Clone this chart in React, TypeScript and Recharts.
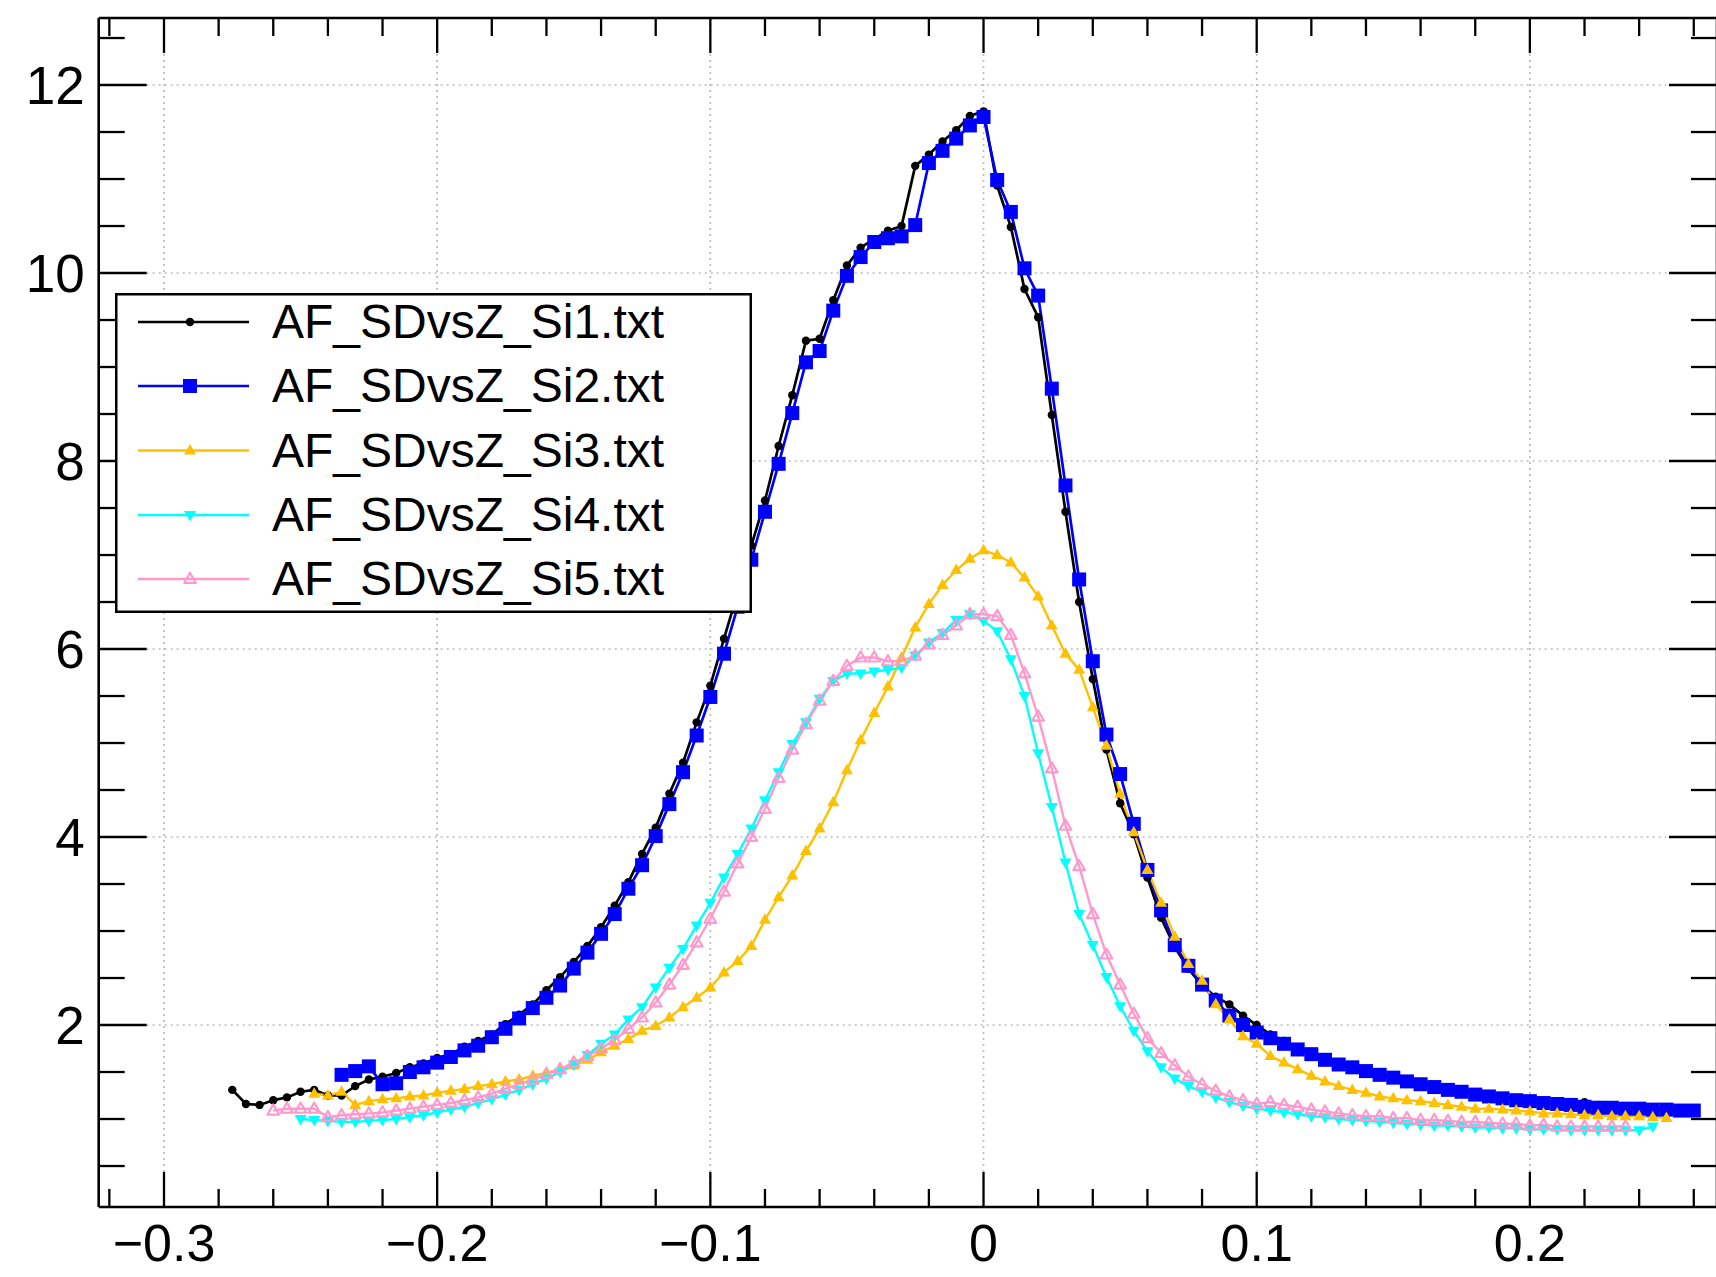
import React from 'react';
import { ComposedChart, Line, XAxis, YAxis, CartesianGrid, Legend } from 'recharts';

const FONT = '"Liberation Sans", Arial, Helvetica, sans-serif';

// ---- axes ----
const X_DOMAIN: [number, number] = [-0.3239, 0.2685];
const Y_DOMAIN: [number, number] = [0.064, 12.713];
const X_MAJOR = [-0.3, -0.2, -0.1, 0, 0.1, 0.2];
const X_MINOR = [-0.32, -0.28, -0.26, -0.24, -0.22, -0.18, -0.16, -0.14, -0.12, -0.08, -0.06, -0.04, -0.02,
  0.02, 0.04, 0.06, 0.08, 0.12, 0.14, 0.16, 0.18, 0.22, 0.24, 0.26];
const Y_MAJOR = [2, 4, 6, 8, 10, 12];
const Y_MINOR = [0.5, 1, 1.5, 2.5, 3, 3.5, 4.5, 5, 5.5, 6.5, 7, 7.5, 8.5, 9, 9.5, 10.5, 11, 11.5, 12.5];
const X_LABELS = ['\u22120.3', '\u22120.2', '\u22120.1', '0', '0.1', '0.2'];
const Y_LABELS = ['2', '4', '6', '8', '10', '12'];

// ---- series data [z, value] ----
const SI1: [number, number][] = [
  [-0.275, 1.31], [-0.27, 1.16], [-0.265, 1.15], [-0.26, 1.2], [-0.255, 1.23], [-0.25, 1.29], [-0.245, 1.31],
  [-0.24, 1.25], [-0.235, 1.25], [-0.23, 1.35], [-0.225, 1.42], [-0.22, 1.45], [-0.215, 1.49], [-0.21, 1.55],
  [-0.205, 1.59], [-0.2, 1.65], [-0.195, 1.69], [-0.19, 1.77], [-0.185, 1.83], [-0.18, 1.9], [-0.175, 2.01],
  [-0.17, 2.11], [-0.165, 2.22], [-0.16, 2.37], [-0.155, 2.51], [-0.15, 2.67], [-0.145, 2.84], [-0.14, 3.04],
  [-0.135, 3.27], [-0.13, 3.52], [-0.125, 3.82], [-0.12, 4.1], [-0.115, 4.46], [-0.11, 4.79], [-0.105, 5.22],
  [-0.1, 5.61], [-0.095, 6.11], [-0.09, 6.6], [-0.085, 7.1], [-0.08, 7.58], [-0.075, 8.16], [-0.07, 8.7],
  [-0.065, 9.28], [-0.06, 9.3], [-0.055, 9.71], [-0.05, 10.08], [-0.045, 10.27], [-0.04, 10.36], [-0.035, 10.45],
  [-0.03, 10.5], [-0.025, 11.14], [-0.02, 11.26], [-0.015, 11.4], [-0.01, 11.52], [-0.005, 11.67], [0, 11.72],
  [0.005, 10.93], [0.01, 10.49], [0.015, 9.83], [0.02, 9.53], [0.025, 8.49], [0.03, 7.46], [0.035, 6.5],
  [0.04, 5.68], [0.045, 4.93], [0.05, 4.36], [0.055, 4.03], [0.06, 3.57], [0.065, 3.14], [0.07, 2.83],
  [0.075, 2.6], [0.08, 2.42], [0.085, 2.3], [0.09, 2.22], [0.095, 2.1], [0.1, 2.0], [0.105, 1.9], [0.11, 1.83],
  [0.115, 1.76], [0.12, 1.71], [0.125, 1.65], [0.13, 1.6], [0.135, 1.56], [0.14, 1.52], [0.145, 1.49],
  [0.15, 1.45], [0.155, 1.42], [0.16, 1.39], [0.165, 1.36], [0.17, 1.33], [0.175, 1.3], [0.18, 1.28],
  [0.185, 1.26], [0.19, 1.24], [0.195, 1.22], [0.2, 1.21], [0.205, 1.19], [0.21, 1.18], [0.215, 1.18],
  [0.22, 1.18], [0.225, 1.15], [0.23, 1.14], [0.235, 1.13], [0.24, 1.12], [0.245, 1.11], [0.25, 1.11], [0.255, 1.1],
];

const SI2: [number, number][] = [
  [-0.235, 1.47], [-0.23, 1.51], [-0.225, 1.56], [-0.22, 1.37], [-0.215, 1.38], [-0.21, 1.5], [-0.205, 1.55],
  [-0.2, 1.6], [-0.195, 1.66], [-0.19, 1.73], [-0.185, 1.78], [-0.18, 1.87], [-0.175, 1.96], [-0.17, 2.07],
  [-0.165, 2.18], [-0.16, 2.29], [-0.155, 2.42], [-0.15, 2.6], [-0.145, 2.77], [-0.14, 2.97], [-0.135, 3.18],
  [-0.13, 3.45], [-0.125, 3.7], [-0.12, 4.01], [-0.115, 4.35], [-0.11, 4.69], [-0.105, 5.08], [-0.1, 5.49],
  [-0.095, 5.95], [-0.09, 6.45], [-0.085, 6.95], [-0.08, 7.46], [-0.075, 7.97], [-0.07, 8.51], [-0.065, 9.05],
  [-0.06, 9.17], [-0.055, 9.6], [-0.05, 9.97], [-0.045, 10.17], [-0.04, 10.33], [-0.035, 10.37], [-0.03, 10.39],
  [-0.025, 10.51], [-0.02, 11.17], [-0.015, 11.3], [-0.01, 11.43], [-0.005, 11.57], [0, 11.66], [0.005, 10.99],
  [0.01, 10.65], [0.015, 10.05], [0.02, 9.76], [0.025, 8.77], [0.03, 7.74], [0.035, 6.74], [0.04, 5.87],
  [0.045, 5.09], [0.05, 4.67], [0.055, 4.14], [0.06, 3.65], [0.065, 3.22], [0.07, 2.85], [0.075, 2.63],
  [0.08, 2.43], [0.085, 2.26], [0.09, 2.1], [0.095, 2.0], [0.1, 1.92], [0.105, 1.86], [0.11, 1.8], [0.115, 1.74],
  [0.12, 1.69], [0.125, 1.63], [0.13, 1.58], [0.135, 1.55], [0.14, 1.51], [0.145, 1.47], [0.15, 1.44],
  [0.155, 1.4], [0.16, 1.37], [0.165, 1.34], [0.17, 1.31], [0.175, 1.29], [0.18, 1.26], [0.185, 1.24],
  [0.19, 1.22], [0.195, 1.2], [0.2, 1.19], [0.205, 1.17], [0.21, 1.16], [0.215, 1.15], [0.22, 1.13],
  [0.225, 1.12], [0.23, 1.12], [0.235, 1.11], [0.24, 1.11], [0.245, 1.1], [0.25, 1.1], [0.255, 1.09], [0.26, 1.09],
];

const SI3: [number, number][] = [
  [-0.245, 1.27], [-0.24, 1.25], [-0.235, 1.29], [-0.23, 1.15], [-0.225, 1.19], [-0.22, 1.21], [-0.215, 1.22],
  [-0.21, 1.24], [-0.205, 1.25], [-0.2, 1.28], [-0.195, 1.3], [-0.19, 1.32], [-0.185, 1.35], [-0.18, 1.37],
  [-0.175, 1.4], [-0.17, 1.42], [-0.165, 1.46], [-0.16, 1.49], [-0.155, 1.53], [-0.15, 1.57], [-0.145, 1.63],
  [-0.14, 1.71], [-0.135, 1.78], [-0.13, 1.85], [-0.125, 1.94], [-0.12, 1.99], [-0.115, 2.08], [-0.11, 2.19],
  [-0.105, 2.29], [-0.1, 2.4], [-0.095, 2.56], [-0.09, 2.68], [-0.085, 2.84], [-0.08, 3.12], [-0.075, 3.36],
  [-0.07, 3.59], [-0.065, 3.85], [-0.06, 4.09], [-0.055, 4.37], [-0.05, 4.71], [-0.045, 5.03], [-0.04, 5.32],
  [-0.035, 5.6], [-0.03, 5.91], [-0.025, 6.23], [-0.02, 6.48], [-0.015, 6.68], [-0.01, 6.84], [-0.005, 6.96],
  [0, 7.05], [0.005, 7.0], [0.01, 6.92], [0.015, 6.76], [0.02, 6.56], [0.025, 6.25], [0.03, 5.95], [0.035, 5.78],
  [0.04, 5.38], [0.045, 4.97], [0.05, 4.46], [0.055, 4.05], [0.06, 3.65], [0.065, 3.3], [0.07, 2.94],
  [0.075, 2.65], [0.08, 2.47], [0.085, 2.22], [0.09, 2.06], [0.095, 1.88], [0.1, 1.8], [0.105, 1.67],
  [0.11, 1.6], [0.115, 1.53], [0.12, 1.46], [0.125, 1.4], [0.13, 1.35], [0.135, 1.31], [0.14, 1.28],
  [0.145, 1.24], [0.15, 1.22], [0.155, 1.2], [0.16, 1.19], [0.165, 1.17], [0.17, 1.15], [0.175, 1.13],
  [0.18, 1.11], [0.185, 1.11], [0.19, 1.1], [0.195, 1.09], [0.2, 1.08], [0.205, 1.06], [0.21, 1.06],
  [0.215, 1.05], [0.22, 1.04], [0.225, 1.04], [0.23, 1.03], [0.235, 1.03], [0.24, 1.03], [0.245, 1.02], [0.25, 1.01],
];

const SI4: [number, number][] = [
  [-0.25, 1.0], [-0.245, 0.99], [-0.24, 0.98], [-0.235, 0.97], [-0.23, 0.97], [-0.225, 0.98], [-0.22, 0.99],
  [-0.215, 1.0], [-0.21, 1.02], [-0.205, 1.04], [-0.2, 1.07], [-0.195, 1.1], [-0.19, 1.13], [-0.185, 1.17],
  [-0.18, 1.21], [-0.175, 1.26], [-0.17, 1.31], [-0.165, 1.37], [-0.16, 1.43], [-0.155, 1.5], [-0.15, 1.58],
  [-0.145, 1.68], [-0.14, 1.8], [-0.135, 1.9], [-0.13, 2.06], [-0.125, 2.19], [-0.12, 2.4], [-0.115, 2.61],
  [-0.11, 2.81], [-0.105, 3.06], [-0.1, 3.3], [-0.095, 3.57], [-0.09, 3.82], [-0.085, 4.09], [-0.08, 4.39],
  [-0.075, 4.69], [-0.07, 4.99], [-0.065, 5.22], [-0.06, 5.47], [-0.055, 5.66], [-0.05, 5.74], [-0.045, 5.74],
  [-0.04, 5.76], [-0.035, 5.78], [-0.03, 5.8], [-0.025, 5.93], [-0.02, 6.07], [-0.015, 6.17], [-0.01, 6.31],
  [-0.005, 6.37], [0, 6.3], [0.005, 6.19], [0.01, 5.89], [0.015, 5.5], [0.02, 4.89], [0.025, 4.32], [0.03, 3.73],
  [0.035, 3.18], [0.04, 2.85], [0.045, 2.51], [0.05, 2.2], [0.055, 1.94], [0.06, 1.72], [0.065, 1.55],
  [0.07, 1.43], [0.075, 1.35], [0.08, 1.29], [0.085, 1.23], [0.09, 1.18], [0.095, 1.14], [0.1, 1.11],
  [0.105, 1.09], [0.11, 1.07], [0.115, 1.05], [0.12, 1.03], [0.125, 1.02], [0.13, 1.0], [0.135, 0.99],
  [0.14, 0.98], [0.145, 0.97], [0.15, 0.96], [0.155, 0.95], [0.16, 0.94], [0.165, 0.93], [0.17, 0.93],
  [0.175, 0.92], [0.18, 0.91], [0.185, 0.91], [0.19, 0.9], [0.195, 0.9], [0.2, 0.89], [0.205, 0.89],
  [0.21, 0.89], [0.215, 0.88], [0.22, 0.88], [0.225, 0.88], [0.23, 0.88], [0.235, 0.88], [0.24, 0.88], [0.245, 0.92],
];

const SI5: [number, number][] = [
  [-0.26, 1.09], [-0.255, 1.11], [-0.25, 1.11], [-0.245, 1.11], [-0.24, 1.02], [-0.235, 1.04], [-0.23, 1.05],
  [-0.225, 1.06], [-0.22, 1.07], [-0.215, 1.09], [-0.21, 1.11], [-0.205, 1.13], [-0.2, 1.15], [-0.195, 1.17],
  [-0.19, 1.2], [-0.185, 1.23], [-0.18, 1.27], [-0.175, 1.32], [-0.17, 1.37], [-0.165, 1.42], [-0.16, 1.48],
  [-0.155, 1.53], [-0.15, 1.6], [-0.145, 1.67], [-0.14, 1.75], [-0.135, 1.84], [-0.13, 1.96], [-0.125, 2.08],
  [-0.12, 2.24], [-0.115, 2.43], [-0.11, 2.64], [-0.105, 2.88], [-0.1, 3.13], [-0.095, 3.42], [-0.09, 3.72],
  [-0.085, 4.0], [-0.08, 4.3], [-0.075, 4.63], [-0.07, 4.93], [-0.065, 5.2], [-0.06, 5.45], [-0.055, 5.66],
  [-0.05, 5.82], [-0.045, 5.91], [-0.04, 5.91], [-0.035, 5.87], [-0.03, 5.87], [-0.025, 5.93], [-0.02, 6.05],
  [-0.015, 6.15], [-0.01, 6.25], [-0.005, 6.37], [0, 6.37], [0.005, 6.35], [0.01, 6.15], [0.015, 5.74],
  [0.02, 5.28], [0.025, 4.73], [0.03, 4.12], [0.035, 3.69], [0.04, 3.18], [0.045, 2.75], [0.05, 2.43],
  [0.055, 2.12], [0.06, 1.86], [0.065, 1.7], [0.07, 1.57], [0.075, 1.45], [0.08, 1.37], [0.085, 1.3],
  [0.09, 1.24], [0.095, 1.2], [0.1, 1.16], [0.105, 1.18], [0.11, 1.15], [0.115, 1.13], [0.12, 1.1],
  [0.125, 1.08], [0.13, 1.06], [0.135, 1.04], [0.14, 1.03], [0.145, 1.03], [0.15, 1.01], [0.155, 1.01],
  [0.16, 0.99], [0.165, 0.99], [0.17, 0.98], [0.175, 0.97], [0.18, 0.97], [0.185, 0.96], [0.19, 0.95],
  [0.195, 0.95], [0.2, 0.93], [0.205, 0.94], [0.21, 0.92], [0.215, 0.92], [0.22, 0.92], [0.225, 0.92],
  [0.23, 0.92], [0.235, 0.92],
];

const SERIES_NAMES = ['AF_SDvsZ_Si1.txt', 'AF_SDvsZ_Si2.txt', 'AF_SDvsZ_Si3.txt', 'AF_SDvsZ_Si4.txt', 'AF_SDvsZ_Si5.txt'];
const SERIES_COLORS = ['#000000', '#0000ff', '#ffc000', '#00ffff', '#ff99cc'];
const SERIES_MARKERS = ['circle', 'square', 'triUp', 'triDown', 'openTri'];
const SERIES_DATA = [SI1, SI2, SI3, SI4, SI5];

const SERIES = SERIES_DATA.map((d, i) => ({
  name: SERIES_NAMES[i],
  color: SERIES_COLORS[i],
  marker: SERIES_MARKERS[i],
  points: d.map(([x, y]) => ({ x, y })),
}));

const X_TICKS = [...X_MAJOR, ...X_MINOR].sort((a, b) => a - b);
const Y_TICKS = [...Y_MAJOR, ...Y_MINOR].sort((a, b) => a - b);

const idxOf = (arr: number[], v: number) => arr.findIndex((m) => Math.abs(m - v) < 1e-9);

// ---- markers ----
function Marker({ kind, cx, cy, color }: { kind: string; cx: number; cy: number; color: string }) {
  if (cx == null || cy == null || isNaN(cx) || isNaN(cy)) return null;
  switch (kind) {
    case 'circle':
      return <circle cx={cx} cy={cy} r={4.2} fill={color} />;
    case 'square':
      return <rect x={cx - 7} y={cy - 7} width={14} height={14} fill={color} />;
    case 'triUp':
      return <polygon points={`${cx},${cy - 6.5} ${cx - 6},${cy + 4} ${cx + 6},${cy + 4}`} fill={color} />;
    case 'triDown':
      return <polygon points={`${cx - 6},${cy - 4} ${cx + 6},${cy - 4} ${cx},${cy + 6.5}`} fill={color} />;
    case 'openTri':
      return (
        <polygon
          points={`${cx},${cy - 6.2} ${cx - 5.8},${cy + 4} ${cx + 5.8},${cy + 4}`}
          fill="none"
          stroke={color}
          strokeWidth={2.2}
          strokeLinejoin="round"
        />
      );
    default:
      return null;
  }
}

// ---- ticks ----
const BottomTick = (p: any) => {
  const v = p.payload.value;
  const mi = idxOf(X_MAJOR, v);
  const major = mi >= 0;
  return (
    <g>
      <line x1={p.x} x2={p.x} y1={p.y} y2={p.y - (major ? 35 : 18)} stroke="#000" strokeWidth={2.3} />
      {major && (
        <text x={p.x} y={p.y + 54} textAnchor="middle" fontSize={52} fontFamily={FONT} fill="#000">
          {X_LABELS[mi]}
        </text>
      )}
    </g>
  );
};

const TopTick = (p: any) => {
  const major = idxOf(X_MAJOR, p.payload.value) >= 0;
  return <line x1={p.x} x2={p.x} y1={p.y} y2={p.y + (major ? 35 : 18)} stroke="#000" strokeWidth={2.3} />;
};

const LeftTick = (p: any) => {
  const v = p.payload.value;
  const mi = idxOf(Y_MAJOR, v);
  const major = mi >= 0;
  return (
    <g>
      <line x1={p.x} x2={p.x + (major ? 48 : 26)} y1={p.y} y2={p.y} stroke="#000" strokeWidth={2.3} />
      {major && (
        <text x={p.x - 14} y={p.y + 19} textAnchor="end" fontSize={53} fontFamily={FONT} fill="#000">
          {Y_LABELS[mi]}
        </text>
      )}
    </g>
  );
};

const RightTick = (p: any) => {
  const major = idxOf(Y_MAJOR, p.payload.value) >= 0;
  return <line x1={p.x} x2={p.x - (major ? 48 : 26)} y1={p.y} y2={p.y} stroke="#000" strokeWidth={2.3} />;
};

// ---- legend ----
const LEGEND_ROWS = [29, 93, 157.5, 222, 286];

function LegendBox() {
  return (
    <svg width={637} height={320} style={{ display: 'block' }}>
      <rect x={1.25} y={1.25} width={634.5} height={317.5} fill="#fff" stroke="#000" strokeWidth={2.5} />
      {SERIES.map((s, i) => (
        <g key={s.name}>
          <line x1={23} x2={134} y1={LEGEND_ROWS[i]} y2={LEGEND_ROWS[i]} stroke={s.color} strokeWidth={2.4} />
          <Marker kind={s.marker} cx={75} cy={LEGEND_ROWS[i]} color={s.color} />
          <text x={157} y={LEGEND_ROWS[i] + 16} fontSize={48} fontFamily={FONT} fill="#000">
            {s.name}
          </text>
        </g>
      ))}
    </svg>
  );
}

export default function App() {
  return (
    <div
      style={{
        position: 'absolute',
        left: 0,
        top: 0,
        width: 1716,
        height: 1277,
        overflow: 'hidden',
        background: '#fff',
      }}
    >
      <ComposedChart width={1727} height={1277} margin={{ top: 0, right: 0, bottom: 0, left: 0 }}>
        <CartesianGrid
          horizontalValues={Y_MAJOR}
          verticalValues={X_MAJOR}
          stroke="#bcbcbc"
          strokeWidth={1.7}
          strokeDasharray="2 4"
          fill="none"
        />
        <XAxis
          xAxisId={0}
          dataKey="x"
          type="number"
          orientation="bottom"
          domain={X_DOMAIN}
          allowDataOverflow
          ticks={X_TICKS}
          interval={0}
          tickSize={0}
          tickMargin={0}
          height={70}
          tickLine={false}
          axisLine={{ stroke: '#000', strokeWidth: 2.6 }}
          tick={BottomTick}
        />
        <XAxis
          xAxisId="top"
          dataKey="x"
          type="number"
          orientation="top"
          domain={X_DOMAIN}
          allowDataOverflow
          ticks={X_TICKS}
          interval={0}
          tickSize={0}
          tickMargin={0}
          height={18}
          tickLine={false}
          axisLine={{ stroke: '#000', strokeWidth: 2.6 }}
          tick={TopTick}
        />
        <YAxis
          yAxisId={0}
          type="number"
          orientation="left"
          domain={Y_DOMAIN}
          allowDataOverflow
          ticks={Y_TICKS}
          interval={0}
          tickSize={0}
          tickMargin={0}
          width={98.7}
          tickLine={false}
          axisLine={{ stroke: '#000', strokeWidth: 2.6 }}
          tick={LeftTick}
        />
        <YAxis
          yAxisId="right"
          type="number"
          orientation="right"
          domain={Y_DOMAIN}
          allowDataOverflow
          ticks={Y_TICKS}
          interval={0}
          tickSize={0}
          tickMargin={0}
          width={10}
          tickLine={false}
          axisLine={{ stroke: '#000', strokeWidth: 2.6 }}
          tick={RightTick}
        />
        {SERIES.map((s, i) => (
          <Line
            key={s.name}
            name={s.name}
            data={s.points}
            dataKey="y"
            type="linear"
            stroke={s.color}
            strokeWidth={i < 2 ? 2.7 : 2.4}
            isAnimationActive={false}
            activeDot={false}
            dot={(p: any) => <Marker key={`${s.name}-${p.index}`} kind={s.marker} cx={p.cx} cy={p.cy} color={s.color} />}
          />
        ))}
        <Legend
          layout="vertical"
          align="center"
          verticalAlign="middle"
          content={() => <LegendBox />}
          wrapperStyle={{ position: 'absolute', left: 115, top: 293, width: 637, height: 320, margin: 0, padding: 0 }}
        />
      </ComposedChart>
    </div>
  );
}
